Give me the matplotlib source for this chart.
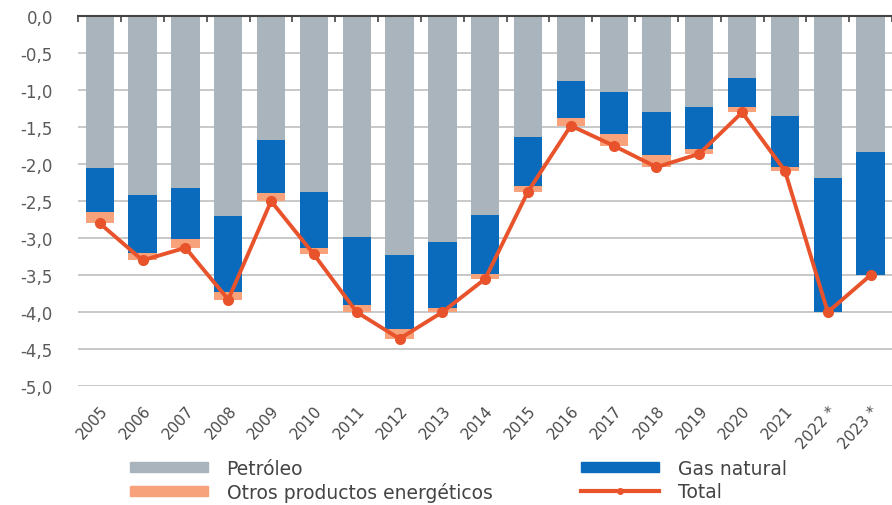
import numpy as np
import matplotlib
matplotlib.use("Agg")
import matplotlib.pyplot as plt
from matplotlib.lines import Line2D
from matplotlib.patches import Patch

# data
years = ["2005", "2006", "2007", "2008", "2009", "2010", "2011", "2012", "2013", "2014",
         "2015", "2016", "2017", "2018", "2019", "2020", "2021", "2022 *", "2023 *"]
petroleo = [-2.05, -2.42, -2.32, -2.70, -1.68, -2.37, -2.99, -3.23, -3.05, -2.69,
            -1.63, -0.87, -1.03, -1.30, -1.23, -0.84, -1.35, -2.19, -1.84]
gas = [-0.60, -0.78, -0.69, -1.03, -0.71, -0.76, -0.92, -1.00, -0.89, -0.80,
       -0.66, -0.50, -0.56, -0.58, -0.56, -0.39, -0.69, -1.81, -1.66]
otros = [-0.15, -0.10, -0.12, -0.10, -0.11, -0.09, -0.09, -0.13, -0.06, -0.06,
         -0.08, -0.11, -0.16, -0.16, -0.07, -0.07, -0.05, 0.0, 0.0]
total = [-2.80, -3.30, -3.13, -3.83, -2.50, -3.22, -4.00, -4.36, -4.00, -3.55,
         -2.37, -1.48, -1.75, -2.04, -1.86, -1.30, -2.09, -4.00, -3.50]

c_petro = "#aab4bc"
c_gas = "#0a6bbd"
c_otros = "#f7a27a"
c_total = "#e8532b"

fig = plt.figure(figsize=(8.92, 5.06), dpi=100)
ax = fig.add_axes([0.0874, 0.235, 0.9126, 0.731])

x = np.arange(len(years))
w = 0.66
petro = np.array(petroleo)
g = np.array(gas)
ot = np.array(otros)

ax.bar(x, petro, w, color=c_petro, zorder=2)
ax.bar(x, g, w, bottom=petro, color=c_gas, zorder=2)
ax.bar(x, ot, w, bottom=petro + g, color=c_otros, zorder=2)
ax.plot(x, total, color=c_total, lw=2.8, marker="o", ms=7, zorder=3)

ax.set_ylim(-5, 0)
ax.set_xlim(-0.51, 18.28)
yt = np.arange(0, -5.01, -0.5)
ax.set_yticks(yt)
ax.set_yticklabels([f"{v:.1f}".replace(".", ",") for v in yt], color="#5a5a5a", fontsize=12)
ax.yaxis.grid(True, color="#c4c4c4", lw=1.3, zorder=0)
ax.tick_params(axis="y", length=0, pad=18)

ax.set_xticks(x)
ax.set_xticklabels(years, rotation=48, ha="right", va="top", rotation_mode="anchor",
                   color="#4a4a4a", fontsize=11)
ax.tick_params(axis="x", which="major", length=0, pad=12)
ax.set_xticks(np.arange(-0.5, len(years), 1), minor=True)
ax.tick_params(axis="x", which="minor", bottom=False, top=True, direction="in",
               length=4, width=1.2, color="#444444")

for s in ["left", "right", "bottom"]:
    ax.spines[s].set_visible(False)
ax.spines["top"].set_color("#444444")
ax.spines["top"].set_linewidth(1.5)

handles = [Patch(color=c_petro), Patch(color=c_otros), Patch(color=c_gas),
           Line2D([], [], color=c_total, lw=3, marker="o", ms=4)]
labels = ["Petróleo", "Otros productos energéticos", "Gas natural", "Total"]
fig.legend(handles, labels, ncol=2, loc="center left", bbox_to_anchor=(0.1457, 0.049),
           frameon=False, fontsize=13.5, handlelength=4.15, handleheight=0.4,
           columnspacing=4.75, labelspacing=0.23, handletextpad=1.0,
           borderpad=0, borderaxespad=0, labelcolor="#444444")

fig.savefig("out.png", dpi=100)
